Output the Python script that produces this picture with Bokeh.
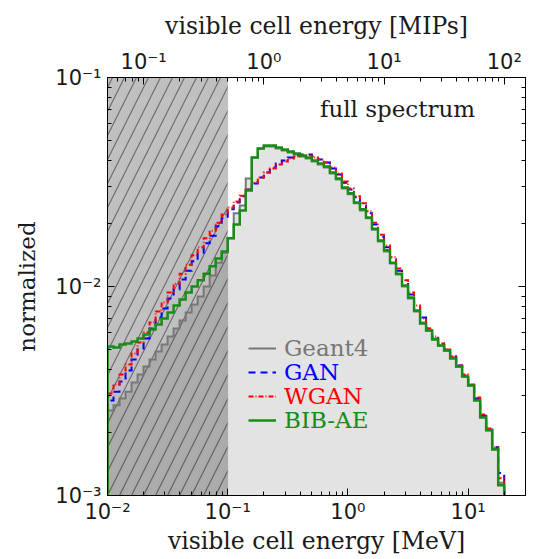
import numpy as np
from bokeh.plotting import figure
from bokeh.models import (Range1d, LogScale, LogAxis, BoxAnnotation, Label,
                          Legend, LegendItem, CustomJSTickFormatter, FixedTicker)
from bokeh.embed import file_html
from bokeh.resources import INLINE

# ---------------- data ----------------
# 20 logarithmic bins per decade from 0.01 MeV to 20 MeV
bin_edges = np.logspace(-2, 1.3, 67)

geant4 = [0.00255, 0.00270, 0.00291, 0.00314, 0.00347, 0.00379, 0.00414, 0.00447, 0.00489, 0.00528,
          0.00576, 0.00630, 0.00688, 0.00751, 0.00820, 0.00896, 0.0100, 0.0113, 0.0130, 0.0145,
          0.0170, 0.0224, 0.0244, 0.0329, 0.0414, 0.0457, 0.0468, 0.0468, 0.0457, 0.0448,
          0.0438, 0.0428, 0.0419, 0.0410, 0.0396, 0.0383, 0.0371, 0.0347, 0.0325, 0.0294,
          0.0276, 0.0250, 0.0231, 0.0212, 0.0187, 0.0164, 0.0147, 0.0129, 0.0114, 0.0100,
          0.00876, 0.00759, 0.00673, 0.00616, 0.00564, 0.00522, 0.00494, 0.00457, 0.00414, 0.00371,
          0.00336, 0.00288, 0.00239, 0.00205, 0.00168, 0.00115]

gan = [0.00285, 0.00314, 0.00351, 0.00396, 0.00447, 0.00505, 0.00564, 0.00630, 0.00711, 0.00785,
       0.00876, 0.00968, 0.0108, 0.0119, 0.0132, 0.0145, 0.0161, 0.0175, 0.0194, 0.0212,
       0.0234, 0.0252, 0.0270, 0.0291, 0.0311, 0.0332, 0.0351, 0.0371, 0.0388, 0.0401,
       0.0414, 0.0424, 0.0428, 0.0428, 0.0419, 0.0405, 0.0392, 0.0367, 0.0343, 0.0314,
       0.0291, 0.0267, 0.0244, 0.0224, 0.0198, 0.0173, 0.0154, 0.0135, 0.0119, 0.0104,
       0.00916, 0.00793, 0.00711, 0.00630, 0.00576, 0.00534, 0.00505, 0.00463, 0.00419, 0.00375,
       0.00340, 0.00291, 0.00241, 0.00207, 0.00170, 0.00128]

wgan = [0.00308, 0.00340, 0.00379, 0.00424, 0.00478, 0.00540, 0.00602, 0.00673, 0.00759, 0.00838,
        0.00936, 0.0103, 0.0115, 0.0127, 0.0141, 0.0154, 0.0170, 0.0185, 0.0202, 0.0221,
        0.0239, 0.0255, 0.0272, 0.0291, 0.0314, 0.0332, 0.0351, 0.0367, 0.0383, 0.0396,
        0.0410, 0.0419, 0.0424, 0.0424, 0.0414, 0.0405, 0.0392, 0.0371, 0.0347, 0.0318,
        0.0294, 0.0270, 0.0250, 0.0229, 0.0202, 0.0177, 0.0157, 0.0138, 0.0122, 0.0107,
        0.00936, 0.00811, 0.00703, 0.00630, 0.00576, 0.00534, 0.00500, 0.00463, 0.00419, 0.00379,
        0.00340, 0.00294, 0.00244, 0.00209, 0.00170, 0.00121]

bibae = [0.00516, 0.00511, 0.00528, 0.00534, 0.00546, 0.00564, 0.00589, 0.00623, 0.00658, 0.00703,
         0.00751, 0.00811, 0.00867, 0.00936, 0.0100, 0.0107, 0.0115, 0.0125, 0.0136, 0.0147,
         0.0170, 0.0198, 0.0231, 0.0288, 0.0414, 0.0457, 0.0473, 0.0473, 0.0463, 0.0452,
         0.0443, 0.0433, 0.0424, 0.0414, 0.0401, 0.0388, 0.0375, 0.0351, 0.0329, 0.0298,
         0.0279, 0.0252, 0.0234, 0.0214, 0.0189, 0.0166, 0.0149, 0.0130, 0.0115, 0.0101,
         0.00886, 0.00768, 0.00665, 0.00616, 0.00558, 0.00522, 0.00494, 0.00452, 0.00414, 0.00371,
         0.00336, 0.00285, 0.00236, 0.00205, 0.00166, 0.00112]

series_names = ["Geant4", "GAN", "WGAN", "BIB-AE"]
mev_per_mip = 0.2
cut_mip = 0.5
x_limits_mev = (0.01, 30.0)
y_limits = (1e-3, 1e-1)
y_floor = 1e-5

x_decades_mev = [1e-2, 1e-1, 1e0, 1e1, 1e2]
x_decades_mip = [1e-2, 1e-1, 1e0, 1e1, 1e2, 1e3]
y_decades = [1e-4, 1e-3, 1e-2, 1e-1, 1e0]


def step_xy(edges, vals, floor):
    xs = [edges[0]]
    ys = [floor]
    for i, v in enumerate(vals):
        xs += [edges[i], edges[i + 1]]
        ys += [v, v]
    xs.append(edges[-1])
    ys.append(floor)
    return xs, ys


def log_ticker(decades):
    minors = [d * m for d in decades for m in range(2, 10)]
    return FixedTicker(ticks=decades, minor_ticks=minors)


# ---------------- figure ----------------
p = figure(frame_width=418, frame_height=418,
           min_border_left=107, min_border_right=16, min_border_top=77, min_border_bottom=64,
           x_axis_type="log", y_axis_type="log",
           x_range=Range1d(*x_limits_mev), y_range=Range1d(*y_limits),
           output_backend="svg", toolbar_location=None)
p.extra_x_ranges = {"mip": Range1d(x_limits_mev[0] / mev_per_mip, x_limits_mev[1] / mev_per_mip)}
p.extra_x_scales = {"mip": LogScale()}

p.xgrid.visible = False
p.ygrid.visible = False
p.outline_line_color = "black"
p.outline_line_width = 1
p.background_fill_color = "white"

# hatched region below the 0.5 MIP threshold
cut = BoxAnnotation(right=cut_mip * mev_per_mip, level="underlay",
                    fill_color="#c0c0c0", fill_alpha=1.0,
                    hatch_pattern="/", hatch_color="#4a4a4a", hatch_alpha=0.75,
                    hatch_scale=24, hatch_weight=1.1,
                    line_color="#999999", line_width=1)
p.add_layout(cut)

# Geant4 filled histogram
gx, gy = step_xy(bin_edges, geant4, y_floor)
p.patch(gx, gy, fill_color="black", fill_alpha=0.11, line_alpha=0)

styles = [
    (geant4, "#777777", "solid", 2.0),
    (gan, "#0000ff", "7 5", 2.0),
    (wgan, "#ff0000", "5 2 1 2", 2.0),
    (bibae, "#188c18", "solid", 2.5),
]
renderers = []
for vals, col, dash, w in styles:
    xs, ys = step_xy(bin_edges, vals, y_floor)
    r = p.line(xs, ys, line_color=col, line_dash=dash, line_width=w, line_join="miter")
    renderers.append(r)

# superscript formatter
sup_fmt = CustomJSTickFormatter(code="""
const sup = {"-": "\u207b", "0": "\u2070", "1": "\u00b9", "2": "\u00b2", "3": "\u00b3",
             "4": "\u2074", "5": "\u2075", "6": "\u2076", "7": "\u2077", "8": "\u2078", "9": "\u2079"};
const e = Math.round(Math.log10(tick));
return "10" + String(e).split("").map(c => sup[c]).join("");
""")
empty_fmt = CustomJSTickFormatter(code="return '';")

top = LogAxis(x_range_name="mip", axis_label="visible cell energy [MIPs]")
p.add_layout(top, "above")
right = LogAxis(axis_label=None)
p.add_layout(right, "right")

bottom = p.below[0]
left = p.left[0]
bottom.axis_label = "visible cell energy [MeV]"
left.axis_label = "normalized"

bottom.ticker = log_ticker(x_decades_mev)
top.ticker = log_ticker(x_decades_mip)
left.ticker = log_ticker(y_decades)
right.ticker = log_ticker(y_decades)

for ax in [bottom, left, top, right]:
    ax.major_tick_in = 7
    ax.major_tick_out = 0
    ax.minor_tick_in = 4
    ax.minor_tick_out = 0
    ax.axis_line_color = "black"
    ax.major_tick_line_color = "black"
    ax.minor_tick_line_color = "black"
    ax.major_label_text_font = "DejaVu Sans"
    ax.major_label_text_font_size = "21px"
    ax.major_label_text_color = "#1a1a1a"
    ax.axis_label_text_font = "DejaVu Serif"
    ax.axis_label_text_font_size = "23.5px"
    ax.axis_label_text_font_style = "normal"
    ax.axis_label_text_color = "#1a1a1a"
    ax.formatter = sup_fmt
    ax.major_label_standoff = 6
    ax.axis_label_standoff = 8
bottom.major_label_standoff = 4
bottom.axis_label_standoff = 0
top.major_label_standoff = 4
top.axis_label_standoff = 7
left.major_label_standoff = 6
left.axis_label_standoff = 12
left.axis_label_text_font_size = "23px"
right.formatter = empty_fmt
right.major_label_standoff = 0
right.axis_label_standoff = 0

# annotation
p.add_layout(Label(x=290, y=387, x_units="screen", y_units="screen", text="full spectrum",
                   text_font="DejaVu Serif", text_font_size="23px", text_color="#1a1a1a",
                   text_align="center", text_baseline="middle"))

# legends, one per entry so each label has its series' colour
legend_colors = ["#777777", "#0000ff", "#ff0000", "#188c18"]
for i, (name, r, c) in enumerate(zip(series_names, renderers, legend_colors)):
    lg = Legend(items=[LegendItem(label=name, renderers=[r])],
                location=(141, 134 - 24 * i),
                padding=0, margin=0, spacing=0,
                border_line_alpha=0, background_fill_alpha=0,
                glyph_width=28, glyph_height=22, label_height=22, label_standoff=8,
                label_text_font="DejaVu Serif", label_text_font_size="23px",
                label_text_color=c)
    p.add_layout(lg)

open("out.html", "w").write(file_html(p, INLINE))
